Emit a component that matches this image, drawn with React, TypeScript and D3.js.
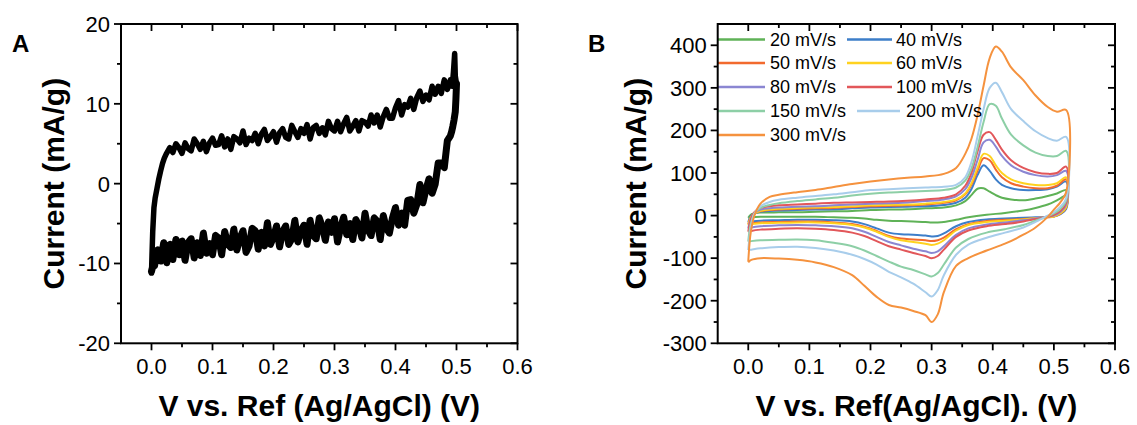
import React from 'react';
import * as d3 from 'd3';

// ---------- Panel A data (single CV loop, V vs mA/g) ----------
const A_UP_V = [0.000, 0.001, 0.002, 0.004, 0.006, 0.009, 0.012, 0.015, 0.018, 0.021, 0.024, 0.027,
  0.030, 0.035, 0.040, 0.045, 0.050, 0.055, 0.060, 0.065, 0.070, 0.075, 0.080, 0.085, 0.090, 0.095,
  0.100, 0.105, 0.110, 0.115, 0.120, 0.125, 0.130, 0.135, 0.140, 0.145, 0.150, 0.155, 0.160, 0.165,
  0.170, 0.175, 0.180, 0.185, 0.190, 0.195, 0.200, 0.205, 0.210, 0.215, 0.220, 0.225, 0.230, 0.235,
  0.240, 0.245, 0.250, 0.255, 0.260, 0.265, 0.270, 0.275, 0.280, 0.285, 0.290, 0.295, 0.300, 0.305,
  0.310, 0.315, 0.320, 0.325, 0.330, 0.335, 0.340, 0.345, 0.350, 0.355, 0.360, 0.365, 0.370, 0.375,
  0.380, 0.385, 0.390, 0.395, 0.400, 0.405, 0.410, 0.415, 0.420, 0.425, 0.430, 0.435, 0.440, 0.445,
  0.450, 0.455, 0.460, 0.465, 0.470, 0.475, 0.480, 0.485, 0.490, 0.493, 0.495, 0.497, 0.498, 0.500];
const A_UP_I = [-11.2, -8.5, -6.0, -3.0, -1.8, -0.6, 0.6, 1.6, 2.5, 3.2, 3.7, 4.1,
  4.5, 3.9, 5.0, 4.5, 3.8, 5.1, 4.4, 4.1, 5.6, 5.0,
  4.3, 5.3, 4.0, 5.1, 5.7, 4.8, 4.9, 6.0, 4.6, 5.6,
  4.3, 5.9, 5.6, 5.1, 6.6, 4.9, 5.7, 5.4, 6.3, 5.0,
  6.2, 6.8, 5.4, 5.9, 6.5, 5.2, 6.4, 6.9, 5.8, 5.6,
  7.3, 6.5, 5.8, 6.9, 6.3, 7.4, 5.6, 7.0, 7.3, 6.3,
  7.0, 6.1, 7.8, 6.9, 6.6, 7.8, 6.5, 7.5, 8.3, 6.6,
  7.2, 7.9, 6.6, 7.9, 7.7, 7.2, 8.6, 7.6, 8.6, 7.1,
  8.4, 9.3, 8.2, 8.2, 9.5, 10.4, 8.6, 9.9, 9.6, 10.7,
  9.3, 10.8, 11.6, 10.3, 11.1, 10.5, 12.2, 11.2, 12.2, 11.3,
  13.0, 11.8, 13.0, 12.2, 14.0, 16.3, 13.5, 12.5];

const A_DN_V = [0.500, 0.499, 0.498, 0.496, 0.494, 0.492, 0.490,
  0.485, 0.480, 0.475, 0.470, 0.465, 0.460, 0.455, 0.450, 0.445, 0.440, 0.435, 0.430, 0.425, 0.420,
  0.415, 0.410, 0.405, 0.400, 0.395, 0.390, 0.385, 0.380, 0.375, 0.370, 0.365, 0.360, 0.355, 0.350,
  0.345, 0.340, 0.335, 0.330, 0.325, 0.320, 0.315, 0.310, 0.305, 0.300, 0.295, 0.290, 0.285, 0.280,
  0.275, 0.270, 0.265, 0.260, 0.255, 0.250, 0.245, 0.240, 0.235, 0.230, 0.225, 0.220, 0.215, 0.210,
  0.205, 0.200, 0.195, 0.190, 0.185, 0.180, 0.175, 0.170, 0.165, 0.160, 0.155, 0.150, 0.145, 0.140,
  0.135, 0.130, 0.125, 0.120, 0.115, 0.110, 0.105, 0.100, 0.095, 0.090, 0.085, 0.080, 0.075, 0.070,
  0.065, 0.060, 0.055, 0.050, 0.045, 0.040, 0.035, 0.030, 0.025, 0.020, 0.015, 0.010, 0.005, 0.002, 0.000];
const A_DN_I = [12.5, 10.5, 9.0, 8.0, 7.2, 6.5, 6.0,
  5.4, 2.0, 2.6, 2.6, -0.1, -1.2, 0.6, -0.7, -2.4, -0.1,
  -2.6, -3.7, -2.0, -2.1, -5.2, -3.7, -5.2, -3.0, -4.3, -6.2,
  -5.6, -4.0, -7.0, -4.7, -4.3, -6.5, -5.8, -3.7, -6.8, -5.3,
  -4.5, -7.0, -5.0, -6.4, -4.2, -5.5, -7.3, -4.4, -6.1, -4.8,
  -7.1, -5.4, -4.3, -6.9, -6.5, -4.6, -7.6, -5.2, -5.9, -7.3,
  -4.6, -6.9, -7.6, -5.3, -6.0, -7.9, -5.3, -6.7, -7.6, -4.9,
  -7.8, -6.1, -8.2, -5.9, -5.6, -7.8, -8.6, -5.9, -6.8, -8.3,
  -5.7, -8.0, -7.6, -6.0, -8.9, -6.8, -6.5, -8.9, -7.5, -8.7,
  -6.2, -9.0, -7.4, -9.3, -6.9, -7.4, -9.6, -7.2, -8.9, -7.0,
  -9.5, -7.6, -9.9, -7.4, -9.7, -8.3, -10.3, -10.4, -11.0];

// ---------- Panel B data (scan-rate series) ----------
const B_UP_V = [0, 0.004, 0.01, 0.02, 0.035, 0.05, 0.08, 0.11, 0.14, 0.17, 0.2, 0.23, 0.26, 0.29, 0.32,
  0.34, 0.355, 0.365, 0.375, 0.385, 0.395, 0.405, 0.415, 0.43, 0.45, 0.47, 0.49, 0.505, 0.52];
const B_DN_V = [0.52, 0.51, 0.5, 0.49, 0.47, 0.45, 0.42, 0.39, 0.36, 0.34, 0.32, 0.31, 0.3, 0.29, 0.27,
  0.25, 0.23, 0.21, 0.19, 0.17, 0.14, 0.11, 0.08, 0.05, 0.02, 0.005, 0];

const RATES = ['20 mV/s', '40 mV/s', '50 mV/s', '60 mV/s', '80 mV/s', '100 mV/s', '150 mV/s', '200 mV/s', '300 mV/s'];

const UP_20 = [-5, 2, 5, 7, 7, 8, 8, 9, 10, 11, 13, 14, 15, 17, 19, 24, 34, 48, 63, 64, 56, 48, 42, 38, 36, 40, 46, 52, 60];
const DN_20 = [50, 40, 32, 26, 18, 12, 6, 2, -4, -10, -15, -16, -16, -15, -14, -13, -12, -10, -7, -5, -4, -3, -3, -3, -3, -4, -5];
const UP_40 = [-15, -2, 5, 9, 11, 12, 13, 14, 15, 17, 19, 20, 21, 22, 25, 30, 42, 62, 95, 118, 105, 85, 72, 64, 60, 60, 62, 68, 80];
const DN_40 = [15, 3, -2, -3, -4, -5, -7, -9, -15, -25, -42, -48, -49, -47, -45, -44, -40, -30, -20, -14, -11, -10, -10, -11, -12, -14, -15];
const UP_50 = [-20, -4, 5, 10, 13, 14, 16, 17, 18, 20, 22, 23, 24, 26, 30, 36, 50, 72, 105, 135, 130, 108, 90, 76, 68, 64, 64, 70, 85];
const DN_50 = [18, 4, -2, -4, -6, -8, -10, -13, -20, -32, -52, -58, -60, -58, -56, -54, -48, -36, -26, -20, -16, -14, -14, -15, -16, -18, -20];
const UP_60 = [-22, -5, 5, 11, 14, 16, 18, 19, 20, 22, 24, 25, 26, 28, 32, 38, 52, 75, 112, 145, 140, 118, 100, 85, 76, 72, 72, 76, 90];
const DN_60 = [20, 5, -2, -4, -6, -9, -12, -15, -22, -35, -58, -66, -69, -66, -62, -58, -50, -38, -28, -22, -18, -16, -16, -17, -18, -20, -22];
const UP_80 = [-30, -8, 6, 14, 17, 19, 21, 22, 24, 26, 28, 29, 31, 34, 38, 45, 62, 88, 130, 172, 178, 162, 140, 118, 103, 95, 92, 95, 105];
const DN_80 = [25, 8, 0, -3, -7, -11, -16, -21, -30, -45, -72, -84, -88, -84, -78, -70, -62, -50, -38, -30, -25, -23, -22, -23, -25, -28, -30];
const UP_100 = [-38, -10, 8, 18, 22, 24, 26, 28, 30, 31, 32, 33, 35, 38, 42, 50, 70, 100, 150, 190, 196, 178, 155, 130, 112, 102, 98, 100, 115];
const DN_100 = [30, 10, 2, -3, -8, -14, -20, -25, -35, -50, -80, -95, -100, -95, -88, -80, -72, -60, -48, -40, -34, -31, -30, -31, -33, -36, -38];
const UP_150 = [-61, -20, 5, 18, 25, 29, 34, 38, 42, 47, 51, 54, 56, 58, 60, 66, 82, 110, 160, 220, 262, 258, 228, 190, 165, 148, 140, 140, 152];
const DN_150 = [35, 15, 5, -2, -12, -22, -32, -40, -55, -75, -115, -135, -143, -138, -128, -120, -108, -95, -82, -72, -64, -58, -56, -57, -58, -60, -61];
const UP_200 = [-81, -30, 5, 22, 32, 37, 42, 46, 50, 55, 60, 62, 64, 66, 68, 72, 90, 125, 185, 250, 300, 312, 290, 250, 222, 198, 182, 176, 185];
const DN_200 = [40, 20, 8, 0, -15, -28, -40, -52, -68, -92, -140, -175, -190, -180, -160, -145, -132, -115, -102, -92, -82, -76, -73, -74, -77, -80, -81];
const UP_300 = [-108, -40, 0, 28, 44, 49, 55, 60, 67, 74, 80, 85, 89, 92, 98, 112, 145, 180, 235, 305, 370, 397, 385, 348, 318, 282, 255, 244, 248];
const DN_300 = [55, 30, 14, -3, -28, -45, -66, -82, -100, -118, -180, -232, -250, -234, -224, -216, -210, -191, -165, -140, -121, -110, -104, -101, -100, -104, -110];

const UP_SERIES = [UP_20, UP_40, UP_50, UP_60, UP_80, UP_100, UP_150, UP_200, UP_300];
const DN_SERIES = [DN_20, DN_40, DN_50, DN_60, DN_80, DN_100, DN_150, DN_200, DN_300];

// ---------- ticks ----------
const X_TICKS = [0, 0.1, 0.2, 0.3, 0.4, 0.5, 0.6];
const X_TICK_LABELS = ['0.0', '0.1', '0.2', '0.3', '0.4', '0.5', '0.6'];
const X_MINOR = [0.05, 0.15, 0.25, 0.35, 0.45, 0.55];
const A_Y_TICKS = [-20, -10, 0, 10, 20];
const A_Y_MINOR = [-15, -5, 5, 15];
const B_Y_TICKS = [-300, -200, -100, 0, 100, 200, 300, 400];
const B_Y_MINOR = [-250, -150, -50, 50, 150, 250, 350];

// ---------- styles ----------
const COLORS = ['#5fb257', '#3d7ec9', '#f26a2e', '#ffd21f', '#8b86d2', '#e2575a', '#8dcfa6', '#a8cdeb', '#f5923e'];
const FONT = '"Liberation Sans", Arial, Helvetica, sans-serif';

type Frame = { x0: number; x1: number; y0: number; y1: number };

function Axes({ f, xs, ys, yTicks, yMinor, xTitle, yTitle, yTitleX, letter, letterX }: any) {
  const MAJ = 7, MIN = 4;
  const tickStroke = { stroke: '#000', strokeWidth: 1.8 };
  return (
    <g>
      <rect x={f.x0} y={f.y0} width={f.x1 - f.x0} height={f.y1 - f.y0} fill="none" stroke="#000" strokeWidth={2} />
      {X_TICKS.map((t, i) => (
        <g key={'xt' + i}>
          <line x1={xs(t)} x2={xs(t)} y1={f.y1} y2={f.y1 + MAJ} {...tickStroke} />
          <line x1={xs(t)} x2={xs(t)} y1={f.y0} y2={f.y0 + MAJ} {...tickStroke} />
          <text x={xs(t)} y={374} textAnchor="middle" fontSize={22} fontFamily={FONT}>{X_TICK_LABELS[i]}</text>
        </g>
      ))}
      {X_MINOR.map((t, i) => (
        <g key={'xm' + i}>
          <line x1={xs(t)} x2={xs(t)} y1={f.y1} y2={f.y1 + MIN} {...tickStroke} />
          <line x1={xs(t)} x2={xs(t)} y1={f.y0} y2={f.y0 + MIN} {...tickStroke} />
        </g>
      ))}
      {yTicks.map((t: number, i: number) => (
        <g key={'yt' + i}>
          <line x1={f.x0 - MAJ} x2={f.x0} y1={ys(t)} y2={ys(t)} {...tickStroke} />
          <line x1={f.x1 - MAJ} x2={f.x1} y1={ys(t)} y2={ys(t)} {...tickStroke} />
          <text x={f.x0 - 11} y={ys(t)} dy="0.36em" textAnchor="end" fontSize={22} fontFamily={FONT}>{String(t)}</text>
        </g>
      ))}
      {yMinor.map((t: number, i: number) => (
        <g key={'ym' + i}>
          <line x1={f.x0 - MIN} x2={f.x0} y1={ys(t)} y2={ys(t)} {...tickStroke} />
          <line x1={f.x1 - MIN} x2={f.x1} y1={ys(t)} y2={ys(t)} {...tickStroke} />
        </g>
      ))}
      <text x={(f.x0 + f.x1) / 2} y={416} textAnchor="middle" fontSize={30} fontWeight="bold" fontFamily={FONT}>{xTitle}</text>
      <text transform={`translate(${yTitleX},${(f.y0 + f.y1) / 2}) rotate(-90)`} textAnchor="middle" fontSize={30} fontWeight="bold" fontFamily={FONT}>{yTitle}</text>
      <text x={letterX} y={52} fontSize={24} fontWeight="bold" fontFamily={FONT}>{letter}</text>
    </g>
  );
}

export default function App() {
  const fA: Frame = { x0: 121, x1: 517.5, y0: 24, y1: 343.3 };
  const fB: Frame = { x0: 717.7, x1: 1115, y0: 24, y1: 343.3 };
  const xA = d3.scaleLinear().domain([-0.05, 0.6]).range([fA.x0, fA.x1]);
  const yA = d3.scaleLinear().domain([-20, 20]).range([fA.y1, fA.y0]);
  const xB = d3.scaleLinear().domain([-0.05, 0.6]).range([fB.x0, fB.x1]);
  const yB = d3.scaleLinear().domain([-300, 450]).range([fB.y1, fB.y0]);

  const upA: [number, number][] = A_UP_V.map((v, i) => [v, A_UP_I[i]] as [number, number]);
  const dnA: [number, number][] = A_DN_V.map((v, i) => [v, A_DN_I[i]] as [number, number]);
  const lineA = d3.line<[number, number]>().x(d => xA(d[0])).y(d => yA(d[1]));

  const lineB = d3.line<[number, number]>().x(d => xB(d[0])).y(d => yB(d[1])).curve(d3.curveCatmullRom.alpha(0.5));

  const legendRows = [39.5, 63, 87, 111, 135];
  const legendPos = RATES.map((_, i) => {
    const row = Math.floor(i / 2);
    const col = i % 2;
    if (col === 0) return { lx0: 718, lx1: 765, tx: 770, y: legendRows[row] };
    if (row === 3) return { lx0: 857, lx1: 900, tx: 906, y: legendRows[row] };
    return { lx0: 847, lx1: 892, tx: 896, y: legendRows[row] };
  });

  return (
    <svg width={1137} height={425} style={{ position: 'absolute', left: 0, top: 0, background: '#fff' }}>
      <rect x={0} y={0} width={1137} height={425} fill="#fff" />
      {/* Panel A */}
      <path d={lineA(upA) || ''} fill="none" stroke="#000" strokeWidth={5.5} strokeLinejoin="round" strokeLinecap="round" />
      <path d={lineA(dnA) || ''} fill="none" stroke="#000" strokeWidth={7} strokeLinejoin="round" strokeLinecap="round" />
      <Axes f={fA} xs={xA} ys={yA} yTicks={A_Y_TICKS} yMinor={A_Y_MINOR}
        xTitle="V vs. Ref (Ag/AgCl) (V)" yTitle="Current (mA/g)" yTitleX={64} letter="A" letterX={12} />

      {/* Panel B */}
      {RATES.map((r, k) => {
        const pts: [number, number][] = [
          ...B_UP_V.map((v, i) => [v, UP_SERIES[k][i]] as [number, number]),
          ...B_DN_V.map((v, i) => [v, DN_SERIES[k][i]] as [number, number]),
        ];
        return <path key={r} d={lineB(pts) || ''} fill="none" stroke={COLORS[k]} strokeWidth={2} strokeLinejoin="round" />;
      })}
      {RATES.map((r, k) => {
        const p = legendPos[k];
        return (
          <g key={'lg' + r}>
            <line x1={p.lx0} x2={p.lx1} y1={p.y} y2={p.y} stroke={COLORS[k]} strokeWidth={2.5} />
            <text x={p.tx} y={p.y} dy="0.36em" fontSize={18} fontFamily={FONT}>{r}</text>
          </g>
        );
      })}
      <Axes f={fB} xs={xB} ys={yB} yTicks={B_Y_TICKS} yMinor={B_Y_MINOR}
        xTitle="V vs. Ref(Ag/AgCl). (V)" yTitle="Current (mA/g)" yTitleX={646} letter="B" letterX={588} />
    </svg>
  );
}
